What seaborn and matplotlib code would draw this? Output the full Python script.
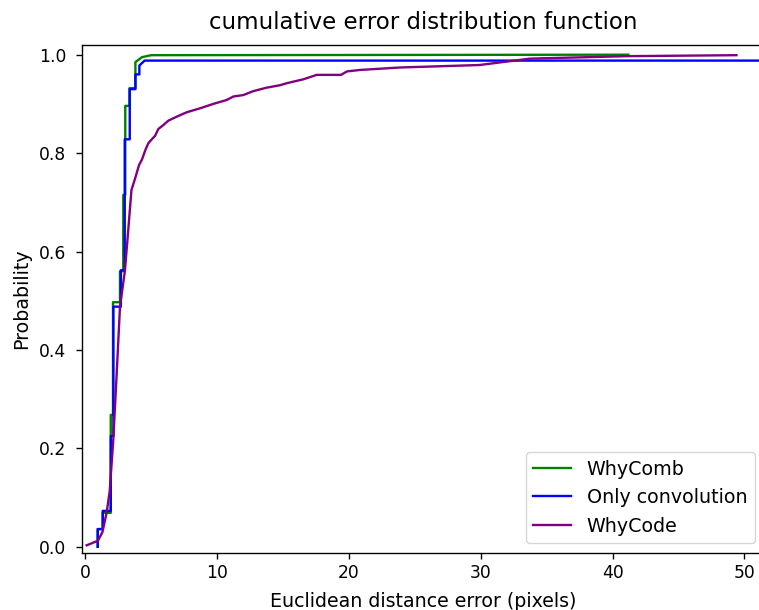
import matplotlib
matplotlib.use("Agg")
import matplotlib.pyplot as plt
import seaborn as sns
import numpy as np

# ---- data ----
comb_x = [0.94, 0.94, 1.32, 1.32, 1.93, 1.93, 2.10, 2.10, 2.63, 2.63, 2.88, 2.88,
          3.03, 3.03, 3.35, 3.35, 3.80, 3.80, 4.30, 5.00, 41.2]
comb_y = [0.0, 0.036, 0.036, 0.069, 0.069, 0.268, 0.268, 0.497, 0.497, 0.56, 0.56, 0.715,
          0.715, 0.896, 0.896, 0.932, 0.932, 0.985, 0.995, 0.999, 1.0]

conv_x = [0.94, 0.94, 1.32, 1.32, 1.93, 1.93, 2.13, 2.13, 2.70, 2.70, 2.99, 2.99,
          3.37, 3.37, 3.80, 3.80, 4.10, 4.10, 4.50, 60.0]
conv_y = [0.0, 0.036, 0.036, 0.073, 0.073, 0.225, 0.225, 0.488, 0.488, 0.562, 0.562, 0.828,
          0.828, 0.930, 0.930, 0.960, 0.960, 0.978, 0.988, 0.988]

code_x = [0.1, 0.74, 0.95, 1.30, 1.62, 1.85, 2.12, 2.38, 2.63, 3.00, 3.20, 3.50, 3.77,
          4.08, 4.30, 4.55, 4.78, 5.04, 5.29, 5.54, 5.92, 6.30, 6.93, 7.69, 8.70, 9.71,
          10.73, 11.23, 11.99, 12.75, 13.76, 14.77, 15.28, 16.54, 17.56, 19.40, 19.85,
          20.84, 23.9, 29.9, 31.97, 33.74, 41.08, 49.4]
code_y = [0.003, 0.010, 0.012, 0.030, 0.070, 0.113, 0.217, 0.352, 0.488, 0.560, 0.625,
          0.725, 0.748, 0.776, 0.787, 0.806, 0.820, 0.828, 0.835, 0.849, 0.857, 0.866,
          0.874, 0.883, 0.891, 0.900, 0.908, 0.915, 0.918, 0.926, 0.933, 0.938, 0.942,
          0.950, 0.959, 0.959, 0.966, 0.969, 0.974, 0.979, 0.986, 0.992, 0.997, 0.999]

labels = ["WhyComb", "Only convolution", "WhyCode"]
colors = ["green", "blue", "purple"]

s = 1.23
plt.rcParams.update({
    "font.family": ["DejaVu Sans"],
    "font.size": 13.7,
    "axes.linewidth": 0.8 * s,
    "xtick.major.size": 3.5 * s,
    "ytick.major.size": 3.5 * s,
    "xtick.major.width": 0.8 * s,
    "ytick.major.width": 0.8 * s,
    "xtick.labelsize": 12.3,
    "ytick.labelsize": 12.3,
    "ytick.major.pad": 6.5,
})

fig = plt.figure(figsize=(7.59, 6.10), dpi=100)
ax = fig.add_axes([81.5 / 759, (610 - 552.7) / 610, (764.4 - 81.5) / 759, (552.7 - 44.7) / 610])

for xs, ys, lab, col in zip([comb_x, conv_x, code_x], [comb_y, conv_y, code_y], labels, colors):
    sns.lineplot(x=xs, y=ys, sort=False, estimator=None, color=col, label=lab,
                 linewidth=1.7, ax=ax)

ax.set_xlim(-0.29, 51.52)
ax.set_ylim(-0.012, 1.0203)
ax.set_xticks([0, 10, 20, 30, 40, 50])
ax.set_yticks([0.0, 0.2, 0.4, 0.6, 0.8, 1.0])
ax.set_title("cumulative error distribution function", fontsize=16.5, pad=11.5)
ax.set_xlabel("Euclidean distance error (pixels)", fontsize=13.7, labelpad=7.5)
ax.set_ylabel("Probability", fontsize=13.7, labelpad=6)
ax.legend(loc="lower right", fontsize=13.7)

fig.savefig("out.png", dpi=100)
